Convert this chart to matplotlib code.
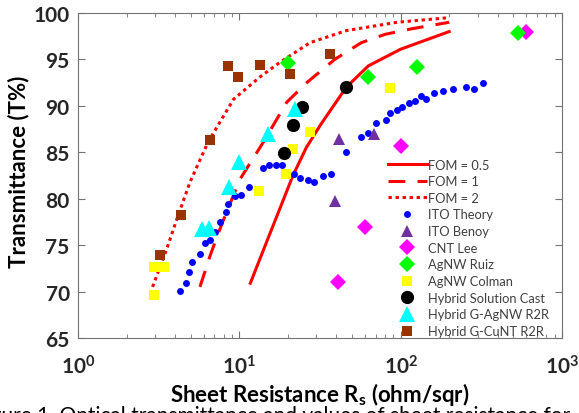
import matplotlib
matplotlib.use("Agg")
from matplotlib import pyplot as plt

plt.rcParams['font.family'] = ['Lato', 'DejaVu Sans']
plt.rcParams['mathtext.fontset'] = 'custom'
plt.rcParams['mathtext.rm'] = 'Lato'
plt.rcParams['mathtext.bf'] = 'Lato:bold'

# FOM curves
fom05_r = [11.7, 14.5, 17.9, 21.5, 26, 32, 46, 63, 100, 200]
fom05_t = [70.9, 75.0, 79.0, 82.5, 85.5, 88.0, 92.0, 94.3, 96.1, 98.0]
fom1_r = [5.7, 6.6, 7.8, 10.1, 14.1, 19.7, 26.2, 39, 57, 80, 117, 200]
fom1_t = [70.5, 73.9, 77.3, 82.1, 86.1, 90.4, 92.5, 95.0, 96.8, 97.7, 98.3, 99.0]
fom2_r = [2.9, 3.55, 4.1, 4.95, 6.4, 9.2, 13.4, 17.9, 27.4, 46, 95, 200]
fom2_t = [70.5, 74.6, 77.8, 81.8, 86.1, 90.7, 93.1, 94.7, 96.8, 98.1, 99.0, 99.5]

# measured data
ito_theory_r = [4.3, 4.65, 4.88, 5.11, 5.71, 6.13, 6.58, 7.07, 7.59, 8.27, 8.55, 9.4,
                10.2, 11.4, 14.0, 15.3, 16.9, 18.3, 21.8, 23.8, 26.5, 29.0, 33.2, 37.0,
                45.7, 56.5, 63, 70.3, 81.2, 86, 94.6, 102, 113, 123, 133, 143, 161,
                184, 212, 253, 285, 323]
ito_theory_t = [70.1, 70.9, 72.1, 73.2, 74.0, 75.2, 75.6, 76.4, 77.5, 78.6, 79.4, 80.3,
                80.4, 81.3, 83.3, 83.6, 83.6, 83.6, 82.7, 82.2, 82.0, 81.8, 82.4, 82.7,
                85.0, 86.6, 87.1, 88.1, 88.5, 89.2, 89.5, 89.9, 90.3, 90.5, 91.1, 90.7,
                91.4, 91.6, 91.8, 92.0, 91.8, 92.5]
ito_benoy_r = [41.7, 68, 39]
ito_benoy_t = [86.4, 87.0, 79.8]
cnt_lee_r = [101, 60, 40.7, 599]
cnt_lee_t = [85.7, 76.9, 71.0, 97.9]
agnw_ruiz_r = [532, 126, 63, 20]
agnw_ruiz_t = [97.8, 94.2, 93.1, 94.6]
agnw_colman_r = [2.98, 2.98, 3.39, 13.3, 19.4, 21.4, 27.4, 86]
agnw_colman_t = [69.6, 72.6, 72.6, 80.8, 82.7, 85.4, 87.2, 91.9]
hyb_cast_r = [18.8, 21.4, 24.4, 45.9]
hyb_cast_t = [84.9, 87.9, 89.9, 92.0]
hyb_agnw_r = [5.85, 6.49, 8.67, 10.0, 15.1, 22.1]
hyb_agnw_t = [76.7, 76.8, 81.3, 83.9, 87.0, 89.7]
hyb_cunt_r = [3.22, 4.33, 6.58, 8.55, 9.86, 13.4, 20.6, 36.5]
hyb_cunt_t = [73.9, 78.2, 86.3, 94.3, 93.1, 94.4, 93.4, 95.6]

fig = plt.figure(figsize=(5.79, 4.14), dpi=100)
ax = fig.add_axes([0.1347, 0.1812, 0.8359, 0.785])

ax.plot(fom05_r, fom05_t, color="red", lw=2.2, label="FOM = 0.5")
ax.plot(fom1_r, fom1_t, color="red", lw=2.2, dashes=(5.5, 4), label="FOM = 1")
ax.plot(fom2_r, fom2_t, color="red", lw=2.2, dashes=(1.1, 1.2), label="FOM = 2")

ax.plot(ito_theory_r, ito_theory_t, "o", color="#0000FF", ms=5, mew=0, label="ITO Theory")
ax.plot(ito_benoy_r, ito_benoy_t, "^", color="#7030A0", ms=9, mew=0, label="ITO Benoy")
ax.plot(cnt_lee_r, cnt_lee_t, "D", color="#FF00FF", ms=8, mew=0, label="CNT Lee")
ax.plot(agnw_ruiz_r, agnw_ruiz_t, "D", color="#00FF00", ms=8, mew=0, label="AgNW Ruiz")
ax.plot(agnw_colman_r, agnw_colman_t, "s", color="#FFFF00", ms=7, mew=0, label="AgNW Colman")
ax.plot(hyb_cast_r, hyb_cast_t, "o", color="black", ms=9.5, mew=0, label="Hybrid Solution Cast")
ax.plot(hyb_agnw_r, hyb_agnw_t, "^", color="#00FFFF", ms=11, mew=0, label="Hybrid G-AgNW R2R")
ax.plot(hyb_cunt_r, hyb_cunt_t, "s", color="#993300", ms=7, mew=0, label="Hybrid G-CuNT R2R")

ax.set_xscale("log")
ax.set_xlim(1, 1000)
ax.set_ylim(65, 100)
ax.set_yticks([65, 70, 75, 80, 85, 90, 95, 100])
ax.tick_params(which="both", direction="in", top=True, right=True, color="0.45")
ax.tick_params(which="major", length=5)
ax.tick_params(which="minor", length=3)
ax.tick_params(axis="x", pad=12)
ax.tick_params(axis="y", pad=6)
for s in ax.spines.values():
    s.set_color("0.45")
for lab in ax.get_xticklabels() + ax.get_yticklabels():
    lab.set_fontsize(15)
    lab.set_fontweight("bold")
    lab.set_color("#262626")

ax.set_ylabel("Transmittance (T%)", fontsize=16, fontweight="bold")
ax.yaxis.set_label_coords(-0.1, 0.515)
ax.set_xlabel(r"Sheet Resistance R$_\mathbf{s}$ (ohm/sqr)", fontsize=16, fontweight="bold")
ax.xaxis.set_label_coords(0.5, -0.128)

ax.legend(loc="upper left", bbox_to_anchor=(0.627, 0.572), frameon=False,
          fontsize=9.3, handlelength=3.0, handletextpad=0.1, labelspacing=0.36,
          borderpad=0, numpoints=1, labelcolor="#404040")

# caption line, cut off at the bottom edge as in the source image
fig.text(-0.045, 0.019, "Figure 1. Optical transmittance and values of sheet resistance for",
         fontsize=15, va="top", ha="left")

plt.savefig("out.png", dpi=100)
